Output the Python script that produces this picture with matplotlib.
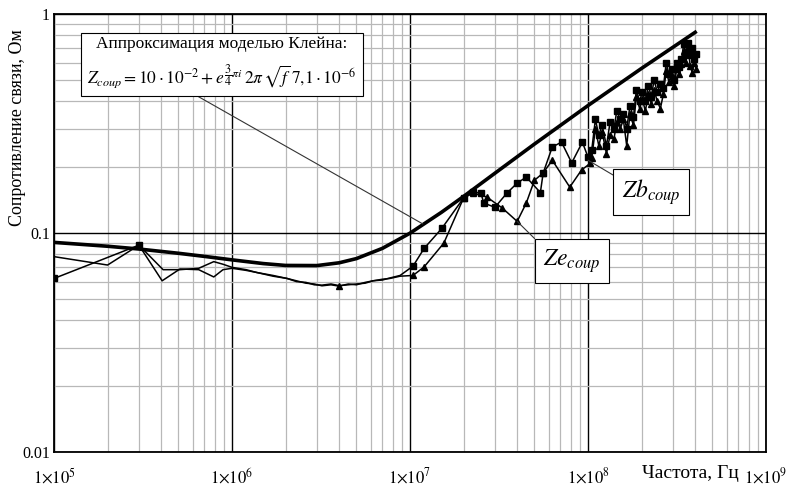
import numpy as np
import matplotlib.pyplot as plt
from matplotlib.ticker import LogLocator, FixedLocator, NullFormatter

plt.rcParams['font.family'] = ['Liberation Serif', 'DejaVu Serif']
plt.rcParams['mathtext.fontset'] = 'stix'

# Аппроксимация моделью Клейна
f_approx = [1e5, 2e5, 3e5, 5e5, 7e5, 1e6, 1.5e6, 2e6, 3e6, 4e6, 5e6, 7e6,
            1e7, 1.5e7, 2e7, 3e7, 5e7, 1e8, 2e8, 4e8]
z_approx = [0.0906, 0.0870, 0.0845, 0.0808, 0.0782, 0.0754, 0.0725, 0.0711,
            0.0710, 0.0731, 0.0764, 0.0851, 0.0998, 0.1242, 0.1469, 0.1875,
            0.2547, 0.3819, 0.5646, 0.825]

# Zb_coup (квадраты)
f_zb = [1e5, 3e5, 4.1e5, 5.1e5, 6.5e5, 7.9e5, 8.9e5, 1e6, 1.2e6, 1.38e6, 1.7e6,
        2.04e6, 2.3e6, 2.6e6, 2.9e6, 3.2e6, 3.6e6, 4.0e6, 4.5e6, 5.0e6, 5.6e6,
        6.2e6, 7.0e6, 7.7e6, 8.8e6, 1.04e7, 1.2e7, 1.51e7, 2.0e7, 2.26e7, 2.5e7,
        2.6e7, 3.0e7, 3.5e7, 4.0e7, 4.5e7, 5.4e7, 5.6e7, 6.3e7, 7.1e7, 8.1e7,
        9.3e7, 1.0e8,
        1.05e8, 1.10e8, 1.15e8, 1.20e8, 1.27e8, 1.33e8, 1.40e8, 1.45e8, 1.52e8,
        1.58e8, 1.65e8, 1.72e8, 1.80e8, 1.87e8, 1.95e8, 2.02e8, 2.10e8, 2.18e8,
        2.27e8, 2.35e8, 2.45e8, 2.55e8, 2.65e8, 2.75e8, 2.85e8, 2.95e8, 3.05e8,
        3.15e8, 3.25e8, 3.35e8, 3.45e8, 3.55e8, 3.65e8, 3.75e8, 3.85e8, 3.95e8,
        4.05e8]
z_zb = [0.062, 0.088, 0.068, 0.068, 0.069, 0.074, 0.072, 0.0697, 0.068, 0.066,
        0.064, 0.062, 0.0605, 0.059, 0.0585, 0.0574, 0.058, 0.0572, 0.0585,
        0.058, 0.0595, 0.0605, 0.061, 0.0623, 0.064, 0.0706, 0.085, 0.105,
        0.1445, 0.154, 0.152, 0.137, 0.131, 0.152, 0.169, 0.180, 0.153, 0.188,
        0.247, 0.26, 0.209, 0.26, 0.222,
        0.24, 0.33, 0.28, 0.31, 0.25, 0.32, 0.30, 0.36, 0.33, 0.35, 0.30, 0.38,
        0.34, 0.45, 0.40, 0.44, 0.40, 0.47, 0.42, 0.50, 0.44, 0.48, 0.46, 0.60,
        0.53, 0.56, 0.50, 0.60, 0.57, 0.62, 0.73, 0.66, 0.74, 0.65, 0.70, 0.62,
        0.66]

# Ze_coup (треугольники)
f_ze = [1e5, 2e5, 3e5, 4.05e5, 5.1e5, 6.5e5, 7.9e5, 8.9e5, 1e6, 1.2e6, 1.38e6,
        1.7e6, 2.04e6, 2.3e6, 2.6e6, 2.9e6, 3.2e6, 3.6e6, 4.0e6, 4.5e6, 5.0e6,
        5.6e6, 6.2e6, 7.0e6, 7.7e6, 8.8e6, 1.04e7, 1.2e7, 1.55e7, 2.0e7, 2.26e7,
        2.7e7, 3.3e7, 4.0e7, 4.5e7, 5.0e7, 5.6e7, 6.3e7, 7.9e7, 9.2e7, 1.03e8,
        1.05e8, 1.10e8, 1.15e8, 1.20e8, 1.27e8, 1.33e8, 1.40e8, 1.45e8, 1.52e8,
        1.58e8, 1.65e8, 1.72e8, 1.80e8, 1.87e8, 1.95e8, 2.02e8, 2.10e8, 2.18e8,
        2.27e8, 2.35e8, 2.45e8, 2.55e8, 2.65e8, 2.75e8, 2.85e8, 2.95e8, 3.05e8,
        3.15e8, 3.25e8, 3.35e8, 3.45e8, 3.55e8, 3.65e8, 3.75e8, 3.85e8, 3.95e8,
        4.05e8]
z_ze = [0.078, 0.0714, 0.088, 0.0605, 0.0685, 0.068, 0.063, 0.068, 0.069,
        0.0675, 0.066, 0.0635, 0.062, 0.06, 0.0595, 0.058, 0.0578, 0.0585,
        0.0575, 0.058, 0.0585, 0.059, 0.0605, 0.0615, 0.062, 0.0635, 0.064,
        0.070, 0.090, 0.1445, 0.152, 0.146, 0.130, 0.113, 0.137, 0.174, 0.188,
        0.215, 0.162, 0.194, 0.208,
        0.22, 0.30, 0.25, 0.29, 0.23, 0.28, 0.27, 0.32, 0.30, 0.33, 0.25, 0.35,
        0.31, 0.42, 0.37, 0.41, 0.36, 0.43, 0.39, 0.45, 0.40, 0.37, 0.43, 0.55,
        0.49, 0.52, 0.47, 0.56, 0.53, 0.59, 0.68, 0.60, 0.70, 0.58, 0.54, 0.60,
        0.56]

x_ticks = [1e5, 1e6, 1e7, 1e8, 1e9]
x_ticklabels = [r'$1{\times}10^{5}$', r'$1{\times}10^{6}$', r'$1{\times}10^{7}$',
                r'$1{\times}10^{8}$', r'$1{\times}10^{9}$']
y_ticks = [0.01, 0.1, 1]
y_ticklabels = ['0.01', '0.1', '1']

fig = plt.figure(figsize=(7.9, 4.87), dpi=100)
ax = fig.add_axes([54 / 790, 35 / 487, 712 / 790, 438 / 487])
ax.set_xscale('log')
ax.set_yscale('log')
ax.set_xlim(1e5, 1e9)
ax.set_ylim(0.01, 1)

# сетка
ax.xaxis.set_minor_locator(LogLocator(base=10, subs=np.arange(2, 10)))
ax.yaxis.set_minor_locator(LogLocator(base=10, subs=np.arange(2, 10)))
ax.xaxis.set_minor_formatter(NullFormatter())
ax.yaxis.set_minor_formatter(NullFormatter())
ax.grid(True, which='minor', color='#b8b8b8', lw=0.9)
ax.grid(True, which='major', color='black', lw=1.0)
ax.set_axisbelow(True)

ax.xaxis.set_major_locator(FixedLocator(x_ticks))
ax.set_xticklabels(x_ticklabels, fontsize=12)
ax.yaxis.set_major_locator(FixedLocator(y_ticks))
ax.set_yticklabels(y_ticklabels, fontsize=11.5)
ax.tick_params(which='both', length=0)
ax.tick_params(axis='x', pad=11)
ax.tick_params(axis='y', pad=3)
for s in ax.spines.values():
    s.set_linewidth(1.3)

# кривые
ax.plot(f_approx, z_approx, color='black', lw=2.6, zorder=4)

mark_zb = [f >= 1e7 or f in (1e5, 3e5) for f in f_zb]
mark_ze = [f >= 1e7 or f in (3e5, 4.0e6) for f in f_ze]
ax.plot(f_zb, z_zb, color='black', lw=1.1, marker='s', ms=4.5, markevery=mark_zb, zorder=3)
ax.plot(f_ze, z_ze, color='black', lw=1.1, marker='^', ms=5, markevery=mark_ze, zorder=3)

def axf(px, py):
    return ((px - 54) / 712, (452 - py) / 438)

box = dict(boxstyle='square,pad=0.35', fc='white', ec='black', lw=0.8)

ax.annotate('Аппроксимация моделью Клейна:\n'
            r'$Z_{coup} = 10\cdot10^{-2} + e^{\dfrac{3}{4}\pi i}\,2\pi\,\sqrt{f}\,7{,}1\cdot10^{-6}$',
            xy=(1.18e7, 0.11), xycoords='data',
            xytext=axf(222, 63), textcoords='axes fraction',
            ha='center', va='center', fontsize=12.5, linespacing=1.5, bbox=box,
            arrowprops=dict(arrowstyle='-', color='#333333', lw=0.8, relpos=(0.37, 0),
                            shrinkA=0, shrinkB=0), zorder=6)

ax.annotate(r'$Ze_{coup}$', xy=(4.0e7, 0.113), xycoords='data',
            xytext=axf(572, 261), textcoords='axes fraction',
            ha='center', va='center', fontsize=17, bbox=box,
            arrowprops=dict(arrowstyle='-', color='#333333', lw=0.8, relpos=(0, 1),
                            shrinkA=0, shrinkB=0), zorder=6)

ax.annotate(r'$Zb_{coup}$', xy=(1.0e8, 0.215), xycoords='data',
            xytext=axf(651, 192), textcoords='axes fraction',
            ha='center', va='center', fontsize=17, bbox=box,
            arrowprops=dict(arrowstyle='-', color='#333333', lw=0.8, relpos=(0, 0.9),
                            shrinkA=0, shrinkB=0), zorder=6)

fig.text(18 / 790, 1 - 128 / 487, 'Сопротивление связи, Ом', rotation=90,
         ha='center', va='center', fontsize=13)
ax.text(*axf(690, 474), 'Частота, Гц', transform=ax.transAxes,
        ha='center', va='center', fontsize=14, clip_on=False)

fig.savefig('out.png', dpi=100)
